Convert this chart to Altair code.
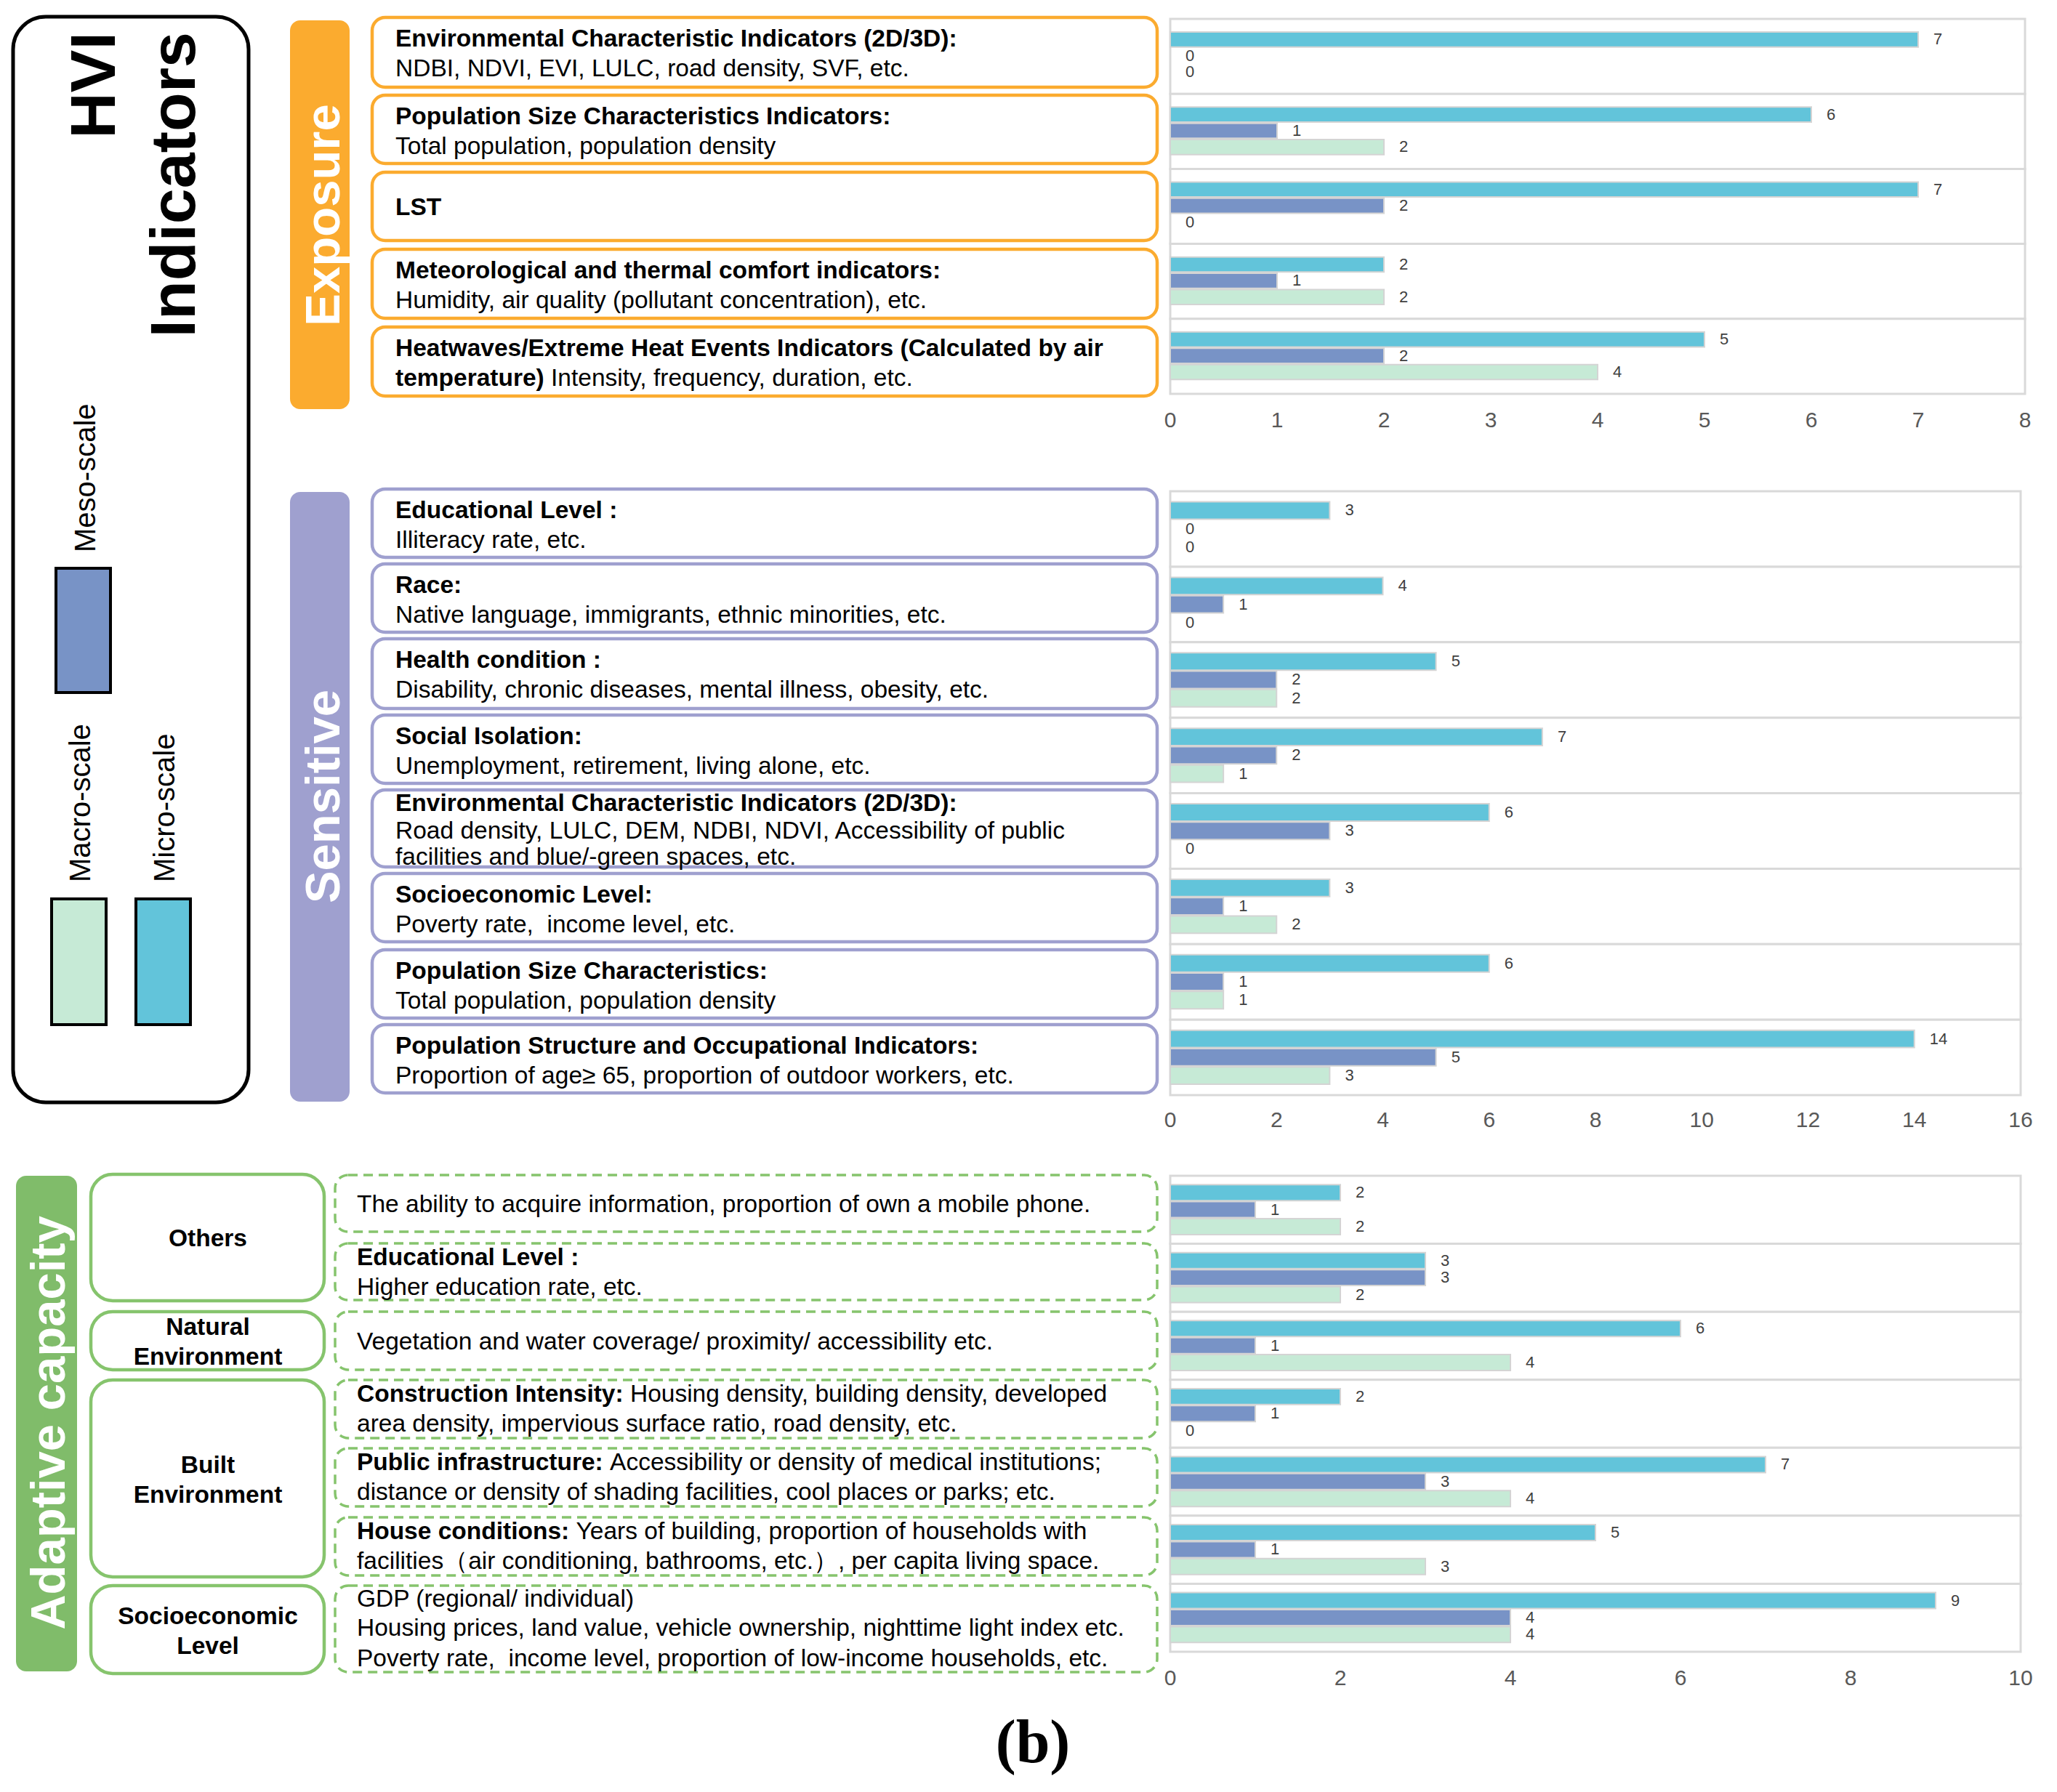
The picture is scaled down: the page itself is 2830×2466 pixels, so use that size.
import altair as alt
import pandas as pd

SANS = "Liberation Sans"
SERIF = "Liberation Serif"

# ---------------- data ----------------
SERIES = ["Micro-scale", "Meso-scale", "Macro-scale"]
SERIES_COLORS = ["#62C4DA", "#7893C6", "#C6EAD6"]

exp_micro = [7, 6, 7, 2, 5]
exp_meso = [0, 1, 2, 1, 2]
exp_macro = [0, 2, 0, 2, 4]
exp_ticks = [0, 1, 2, 3, 4, 5, 6, 7, 8]

sen_micro = [3, 4, 5, 7, 6, 3, 6, 14]
sen_meso = [0, 1, 2, 2, 3, 1, 1, 5]
sen_macro = [0, 0, 2, 1, 0, 2, 1, 3]
sen_ticks = [0, 2, 4, 6, 8, 10, 12, 14, 16]

ada_micro = [2, 3, 6, 2, 7, 5, 9]
ada_meso = [1, 3, 1, 1, 3, 1, 4]
ada_macro = [2, 2, 4, 0, 4, 3, 4]
ada_ticks = [0, 2, 4, 6, 8, 10]

exp_text = [
    [[("Environmental Characteristic Indicators (2D/3D):", True)],
     [("NDBI, NDVI, EVI, LULC, road density, SVF, etc.", False)]],
    [[("Population Size Characteristics Indicators:", True)],
     [("Total population, population density", False)]],
    [[("LST", True)]],
    [[("Meteorological and thermal comfort indicators:", True)],
     [("Humidity, air quality (pollutant concentration), etc.", False)]],
    [[("Heatwaves/Extreme Heat Events Indicators (Calculated by air", True)],
     [("temperature)", True), ("Intensity, frequency, duration, etc.", False)]],
]

sen_text = [
    [[("Educational Level :", True)], [("Illiteracy rate, etc.", False)]],
    [[("Race:", True)], [("Native language, immigrants, ethnic minorities, etc.", False)]],
    [[("Health condition :", True)], [("Disability, chronic diseases, mental illness, obesity, etc.", False)]],
    [[("Social Isolation:", True)], [("Unemployment, retirement, living alone, etc.", False)]],
    [[("Environmental Characteristic Indicators (2D/3D):", True)],
     [("Road density, LULC, DEM, NDBI, NDVI, Accessibility of public", False)],
     [("facilities and blue/-green spaces, etc.", False)]],
    [[("Socioeconomic Level:", True)], [("Poverty rate,\u00a0 income level, etc.", False)]],
    [[("Population Size Characteristics:", True)], [("Total population, population density", False)]],
    [[("Population Structure and Occupational Indicators:", True)],
     [("Proportion of age\u2265 65, proportion of outdoor workers, etc.", False)]],
]

ada_text = [
    [[("The ability to acquire information, proportion of own a mobile phone.", False)]],
    [[("Educational Level :", True)], [("Higher education rate, etc.", False)]],
    [[("Vegetation and water coverage/ proximity/ accessibility etc.", False)]],
    [[("Construction Intensity:", True), ("Housing density, building density, developed", False)],
     [("area density, impervious surface ratio, road density, etc.", False)]],
    [[("Public infrastructure:", True), ("Accessibility or density of medical institutions;", False)],
     [("distance or density of shading facilities, cool places or parks; etc.", False)]],
    [[("House conditions:", True), ("Years of building, proportion of households with", False)],
     [("facilities\uff08air conditioning, bathrooms, etc.\uff09, per capita living space.", False)]],
    [[("GDP (regional/ individual)", False)],
     [("Housing prices, land value, vehicle ownership, nighttime light index etc.", False)],
     [("Poverty rate,\u00a0 income level, proportion of low-income households, etc.", False)]],
]

ada_groups = [["Others"], ["Natural", "Environment"], ["Built", "Environment"], ["Socioeconomic", "Level"]]

# ---------------- layout ----------------
W, H = 2814, 2450
M = 8


def P(v):
    return v - M


CX = alt.Scale(domain=[M, M + W], range=[0, W], nice=False, zero=False)
CY = alt.Scale(domain=[M, M + H], range=[0, H], nice=False, zero=False)

ORANGE = "#FBAB2F"
PURPLE = "#9FA0CF"
GREEN = "#80BC6A"
GREEN_LINE = "#86C46D"
TXT = 33.5
BOX_R = 1592

BOLD_W = {
    " ": .278, "(": .333, ")": .333, ":": .333, ";": .333, ",": .278, ".": .278, "/": .278,
    "A": .722, "B": .722, "C": .722, "D": .722, "E": .667, "F": .611, "G": .778, "H": .722,
    "I": .278, "J": .556, "K": .722, "L": .611, "M": .833, "N": .722, "O": .778, "P": .667,
    "R": .722, "S": .667, "T": .611, "U": .722, "V": .667, "W": .944, "Y": .667,
    "a": .556, "b": .611, "c": .556, "d": .611, "e": .556, "f": .333, "g": .611, "h": .611,
    "i": .278, "j": .278, "k": .556, "l": .278, "m": .889, "n": .611, "o": .611, "p": .611,
    "q": .611, "r": .389, "s": .556, "t": .333, "u": .611, "v": .556, "w": .778, "x": .556,
    "y": .556, "z": .500,
}


def bold_width(s, size):
    return sum(BOLD_W.get(c, 0.556) for c in s) * size


def rects(rows, **mk):
    df = pd.DataFrame(rows, columns=["x0", "x1", "y0", "y1"])
    return alt.Chart(df).mark_rect(**mk).encode(
        x=alt.X("x0:Q", scale=CX, axis=None), x2="x1:Q",
        y=alt.Y("y0:Q", scale=CY, axis=None), y2="y1:Q")


def texts(rows, size, bold=False, color="#000000", align="left", baseline="middle", angle=0, font=SANS):
    df = pd.DataFrame(rows, columns=["x", "y", "t"])
    mk = dict(align=align, baseline=baseline, fontSize=size,
              fontWeight="bold" if bold else "normal", color=color, font=font)
    if angle:
        mk["angle"] = angle
    return alt.Chart(df).mark_text(**mk).encode(
        x=alt.X("x:Q", scale=CX, axis=None), y=alt.Y("y:Q", scale=CY, axis=None), text="t:N")


def lay_box_text(x, ys, lines, brows, rrows, size=TXT):
    for y, segs in zip(ys, lines):
        cx = x
        for t, b in segs:
            (brows if b else rrows).append((cx, y, t))
            cx += (bold_width(t, size) if b else 0) + 0.278 * size


def line_ys(top, bot, n, two, three):
    if n == 1:
        return [(top + bot) / 2 + 2]
    if n == 2:
        return [top + two[0], top + two[1]]
    return [top + three[0], top + three[1], top + three[2]]


L = []

# legend panel
L.append(rects([(18, 342, 23, 1517)], fill="#FFFFFF", stroke="#000000", strokeWidth=5, cornerRadius=45))
L.append(rects([(77, 152, 782, 953)], fill=SERIES_COLORS[1], stroke="#000000", strokeWidth=4))
L.append(rects([(71, 146, 1237, 1410)], fill=SERIES_COLORS[2], stroke="#000000", strokeWidth=4))
L.append(rects([(187, 262, 1237, 1410)], fill=SERIES_COLORS[0], stroke="#000000", strokeWidth=4))
L.append(texts([(158, 44, "HVI"), (268, 44, "Indicators")], 88, bold=True, align="right",
               baseline="alphabetic", angle=270))
L.append(texts([(131, 760, "Meso-scale"), (124, 1214, "Macro-scale"), (240, 1214, "Micro-scale")], 40,
               align="left", baseline="alphabetic", angle=270))

# section label bars
L.append(rects([(399, 481, 28, 563)], fill=ORANGE, cornerRadius=14))
L.append(rects([(399, 481, 677, 1516)], fill=PURPLE, cornerRadius=14))
L.append(rects([(22, 106, 1618, 2300)], fill=GREEN, cornerRadius=14))
L.append(texts([(467, 296, "Exposure"), (467, 1096, "Sensitive"), (89, 1958, "Adaptive capacity")], 67,
               bold=True, color="#FFFFFF", align="center", baseline="alphabetic", angle=270))

# exposure boxes
exp_box_y = [(24, 120), (131, 225), (237, 331), (343, 438), (450, 545)]
L.append(rects([(512, BOX_R, a, b) for a, b in exp_box_y], fill="#FFFFFF", stroke=ORANGE,
               strokeWidth=4.5, cornerRadius=18))
# sensitive boxes
sen_box_y = [(673, 767), (776, 870), (879, 975), (984, 1078), (1087, 1193), (1202, 1296), (1307, 1401), (1410, 1504)]
L.append(rects([(512, BOX_R, a, b) for a, b in sen_box_y], fill="#FFFFFF", stroke=PURPLE,
               strokeWidth=4.5, cornerRadius=18))
# adaptive group boxes
grp_box_y = [(1616, 1790), (1805, 1885), (1899, 2170), (2182, 2303)]
L.append(rects([(125, 446, a, b) for a, b in grp_box_y], fill="#FFFFFF", stroke=GREEN_LINE,
               strokeWidth=4.5, cornerRadius=30))
# adaptive dashed boxes
ada_box_y = [(1617, 1695), (1711, 1789), (1805, 1885), (1899, 1979), (1993, 2073), (2088, 2168), (2182, 2301)]
L.append(rects([(461, BOX_R, a, b) for a, b in ada_box_y], fill="#FFFFFF", stroke=GREEN_LINE,
               strokeWidth=3.5, strokeDash=[13, 8], cornerRadius=18))

brows, rrows = [], []
for (a, b), lines in zip(exp_box_y, exp_text):
    lay_box_text(544, line_ys(a, b, len(lines), (30, 71), (19, 57, 93)), lines, brows, rrows)
for (a, b), lines in zip(sen_box_y, sen_text):
    lay_box_text(544, line_ys(a, b, len(lines), (30, 71), (19, 57, 93)), lines, brows, rrows)
for (a, b), lines in zip(ada_box_y, ada_text):
    lay_box_text(491, line_ys(a, b, len(lines), (20, 61), (19, 59, 101)), lines, brows, rrows)
L.append(texts(brows, TXT, bold=True))
L.append(texts(rrows, TXT))

grp_rows = []
for (a, b), words in zip(grp_box_y, ada_groups):
    c = (a + b) / 2 + 2
    if len(words) == 1:
        grp_rows.append((286, c, words[0]))
    else:
        grp_rows.append((286, c - 20, words[0]))
        grp_rows.append((286, c + 21, words[1]))
L.append(texts(grp_rows, TXT, bold=True, align="center"))

L.append(texts([(1421, 2425, "(b)")], 84, bold=True, align="center", baseline="alphabetic", font=SERIF))


# ---------------- bar panels ----------------
def section(micro, meso, macro, ticks, xpx, ypx, start, bw, gap, tick_y):
    n = len(micro)
    xs = alt.Scale(domain=[ticks[0], ticks[-1]], range=[P(xpx[0]), P(xpx[1])], nice=False, zero=False)
    ys = alt.Scale(domain=[0, n], range=[P(ypx[0]), P(ypx[1])], nice=False, zero=False)
    cells = pd.DataFrame({"r0": list(range(n)), "r1": list(range(1, n + 1)),
                          "a": [ticks[0]] * n, "b": [ticks[-1]] * n})
    frame = alt.Chart(cells).mark_rect(fill="#FFFFFF", stroke="#D9D9D9", strokeWidth=3).encode(
        x=alt.X("a:Q", scale=xs, axis=None), x2="b:Q",
        y=alt.Y("r0:Q", scale=ys, axis=None), y2="r1:Q")
    rows = []
    for i in range(n):
        for k, (s, vals) in enumerate(zip(SERIES, (micro, meso, macro))):
            y0 = i + start + k * (bw + gap)
            rows.append({"series": s, "v": vals[i], "y0": y0, "y1": y0 + bw,
                         "ym": y0 + bw / 2, "base": 0})
    df = pd.DataFrame(rows)
    color = alt.Color("series:N", scale=alt.Scale(domain=SERIES, range=SERIES_COLORS), legend=None)
    bars = alt.Chart(df).transform_filter("datum.v > 0").mark_bar(
        stroke="#D4D4D4", strokeWidth=2).encode(
        x=alt.X("base:Q", scale=xs, axis=None), x2="v:Q",
        y=alt.Y("y0:Q", scale=ys, axis=None), y2="y1:Q", color=color)
    labels = alt.Chart(df).mark_text(align="left", baseline="middle", dx=21, fontSize=22,
                                     color="#404040", font=SANS).encode(
        x=alt.X("v:Q", scale=xs, axis=None), y=alt.Y("ym:Q", scale=ys, axis=None), text="v:Q")
    tdf = pd.DataFrame({"t": ticks})
    tlab = alt.Chart(tdf).mark_text(align="center", baseline="middle", fontSize=30,
                                    color="#595959", font=SANS).encode(
        x=alt.X("t:Q", scale=xs, axis=None), y=alt.value(P(tick_y)), text="t:Q")
    return [frame, bars, labels, tlab]


L += section(exp_micro, exp_meso, exp_macro, exp_ticks, (1610, 2786), (26, 542), 0.175, 0.2, 0.017, 579)
L += section(sen_micro, sen_meso, sen_macro, sen_ticks, (1610, 2780), (676, 1507), 0.14, 0.23, 0.013, 1542)
L += section(ada_micro, ada_meso, ada_macro, ada_ticks, (1610, 2780), (1618, 2273), 0.13, 0.235, 0.015, 2310)

chart = alt.layer(*L).resolve_scale(
    x="independent", y="independent", color="independent"
).properties(
    width=W, height=H, autosize=alt.AutoSizeParams(type="none"), padding=0, background="#FFFFFF"
).configure_view(stroke=None)

chart.save("out.html", embed_options={"renderer": "svg", "actions": False})
